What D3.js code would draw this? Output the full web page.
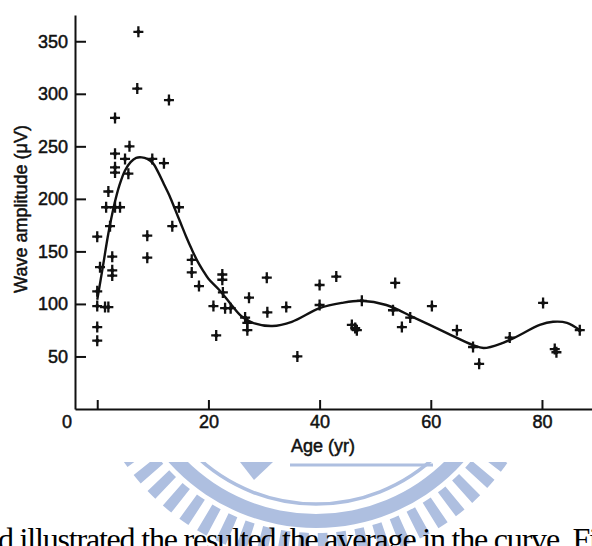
<!DOCTYPE html>
<html>
<head>
<meta charset="utf-8">
<script src="https://cdn.jsdelivr.net/npm/d3@7"></script>
<style>
  html, body { margin: 0; padding: 0; background: #fff; }
  #chart { width: 592px; height: 546px; }
  svg { display: block; }
  .axis text { font-family: "Liberation Sans", Arial, sans-serif; font-size: 18px; fill: #111; stroke: #111; stroke-width: 0.5px; }
  .axis path, .axis line { stroke: #111; stroke-width: 2px; }
</style>
</head>
<body>
<div id="chart"></div>
<script>
// scatter points (age in years, amplitude in uV)
const pointAges = [7.4, 7.2, 12.9, 3.2, 5.8, 3.2, 5.0, 9.9, 12.0, 3.2, 3.2, 5.6, 2.0, 1.6, 3.2, 4.1, 14.7,
  13.5, 2.3, 0, 9, 9, 2.7, 0.5, 2.7, 2.7, 17, 17, 18.3, 0, 0, 1.4, 2.0, 0, 0,
  20.9, 21.4, 22.5, 22.5, 22.6, 23, 24, 26.6, 27, 27, 27.3, 30.5, 30.6, 34, 36,
  40, 40, 43, 45.8, 46.4, 46.7, 47.6, 53.6, 53.2, 54.8, 56.3, 60.2, 64.7, 67.6, 68.7,
  74.2, 80.2, 82.3, 82.6, 86.8];
const pointAmps = [359, 305, 294, 277, 250, 243, 238, 238, 234, 230, 225, 224, 207, 192, 192, 192, 192,
  174, 174, 164, 165, 144, 145, 135, 132, 127, 142, 130, 117, 112, 98, 97, 97, 78, 65,
  98, 70, 128, 123, 111, 96, 96, 87, 82, 75, 106, 125, 92, 97, 50,
  118, 99, 126, 80, 77, 75, 103, 120, 94, 78, 87, 98, 75, 59, 43,
  68, 101, 57, 54, 75];

// fitted curve
const curveAges = [0, 1, 2, 3, 4, 5, 6, 7, 8, 9, 10, 11, 12, 13, 14, 15, 16, 17, 18, 19, 20, 22, 24, 26, 28,
  31.5, 35, 40, 44, 47.5, 52, 57, 63, 67.5, 69.5, 73, 75.5, 79.6, 82, 84.5, 86.8];
const curveAmps = [104, 135, 167, 193, 213, 227, 235, 239, 239.5, 238, 234, 225, 214, 203, 190, 177, 164, 152, 141, 132, 124, 113, 100, 88, 82,
  79, 83, 96, 101, 103, 99, 87, 72, 61, 58, 63, 69, 80, 83, 82, 75];

const xTicks = [0, 20, 40, 60, 80];
const yTicks = [50, 100, 150, 200, 250, 300, 350];

const xLabel = 'Age (yr)';
const yLabel = 'Wave amplitude (\u03bcV)';
const bodyText = 'd illustrated the resulted the average in the curve. Fi';

class AmplitudeChart {
  constructor(_config) {
    this.config = {
      parentElementSelector: _config.parentElementSelector,
      width: _config.width || 592,
      height: _config.height || 546,
    };
    this.initVis();
  }

  initVis() {
    this.svg = d3.select(this.config.parentElementSelector)
      .append('svg')
      .attr('width', this.config.width)
      .attr('height', this.config.height);

    this.x = d3.scaleLinear().domain([-4, 89]).range([75, 592]);
    this.y = d3.scaleLinear().domain([0, 375]).range([409, 15]);

    this.drawWatermark();

    // the figure itself sits on a white card
    this.svg.append('rect')
      .attr('x', 0).attr('y', 0)
      .attr('width', this.config.width).attr('height', 462)
      .attr('fill', '#fff');

    this.updateVis();
  }

  drawWatermark() {
    const blue = '#aebfe0';
    const cx = 316, cy = 330;
    const g = this.svg.append('g').attr('transform', `translate(${cx},${cy})`);

    g.append('path')
      .attr('d', d3.arc().innerRadius(184).outerRadius(198).startAngle(0).endAngle(2 * Math.PI)())
      .attr('fill', blue);
    g.append('circle').attr('r', 174).attr('fill', 'none').attr('stroke', blue).attr('stroke-width', 3.5);

    const rays = d3.range(0, 360, 5.2);
    g.selectAll('.ray')
      .data(rays)
      .enter()
      .append('path')
      .attr('class', 'ray')
      .attr('d', d3.arc().innerRadius(203).outerRadius(233)
        .startAngle(0).endAngle(2.7 * Math.PI / 180)())
      .attr('transform', d => `rotate(${d})`)
      .attr('fill', blue);

    g.append('line')
      .attr('x1', -26).attr('x2', 117)
      .attr('y1', 135).attr('y2', 135)
      .attr('stroke', blue).attr('stroke-width', 3);
    g.append('path')
      .attr('d', 'M-76,132L-43,132L-62,150Z')
      .attr('fill', blue);
  }

  updateVis() {
    const x = this.x, y = this.y;

    this.svg.append('g')
      .attr('class', 'axis')
      .attr('transform', `translate(0,${y(0)})`)
      .call(d3.axisBottom(x).tickValues(xTicks).tickSizeInner(-9).tickSizeOuter(0).tickPadding(6)
        .tickFormat(d => d === 0 ? '' : d));

    const yAxisG = this.svg.append('g')
      .attr('class', 'axis')
      .attr('transform', `translate(${x(-4)},0)`)
      .call(d3.axisLeft(y).tickValues(yTicks).tickSizeInner(-11).tickSizeOuter(0).tickPadding(7));

    // origin label
    yAxisG.append('text')
      .attr('x', -8)
      .attr('y', y(0) + 13)
      .attr('dy', '0.35em')
      .attr('text-anchor', 'middle')
      .text('0');

    const labelStyle = sel => sel
      .attr('font-family', '"Liberation Sans", Arial, sans-serif')
      .attr('font-size', 18)
      .attr('fill', '#111')
      .attr('stroke', '#111')
      .attr('stroke-width', 0.5);

    this.svg.append('text')
      .attr('x', 323).attr('y', 446)
      .attr('dy', '0.35em')
      .attr('text-anchor', 'middle')
      .call(labelStyle)
      .text(xLabel);

    this.svg.append('text')
      .attr('transform', 'translate(21,209) rotate(-90)')
      .attr('dy', '0.35em')
      .attr('text-anchor', 'middle')
      .call(labelStyle)
      .text(yLabel);

    // fitted curve
    const line = d3.line()
      .x((d, i) => x(curveAges[i]))
      .y(d => y(d))
      .curve(d3.curveCatmullRom.alpha(0.5));
    this.svg.append('path')
      .datum(curveAmps)
      .attr('fill', 'none')
      .attr('stroke', '#111')
      .attr('stroke-width', 2.4)
      .attr('d', line);

    // scatter crosses
    const pts = pointAges.map((a, i) => ({ age: a, amp: pointAmps[i] }));
    const marks = this.svg.selectAll('.pt')
      .data(pts)
      .enter()
      .append('g')
      .attr('class', 'pt')
      .attr('transform', d => `translate(${x(d.age)},${y(d.amp)})`);
    marks.append('path')
      .attr('d', 'M-5,0H5M0,-5.5V5.5')
      .attr('stroke', '#111')
      .attr('stroke-width', 2.3);
    marks.append('circle').attr('r', 2).attr('fill', '#111');

    // running text of the page below the figure, cut by the page edge as in the source
    this.svg.append('text')
      .attr('x', -2).attr('y', 550)
      .attr('font-family', '"Liberation Serif", "Times New Roman", serif')
      .attr('font-size', 32)
      .attr('fill', '#000')
      .attr('textLength', 600)
      .attr('lengthAdjust', 'spacing')
      .text(bodyText);
  }
}

new AmplitudeChart({ parentElementSelector: '#chart' });
</script>
</body>
</html>
